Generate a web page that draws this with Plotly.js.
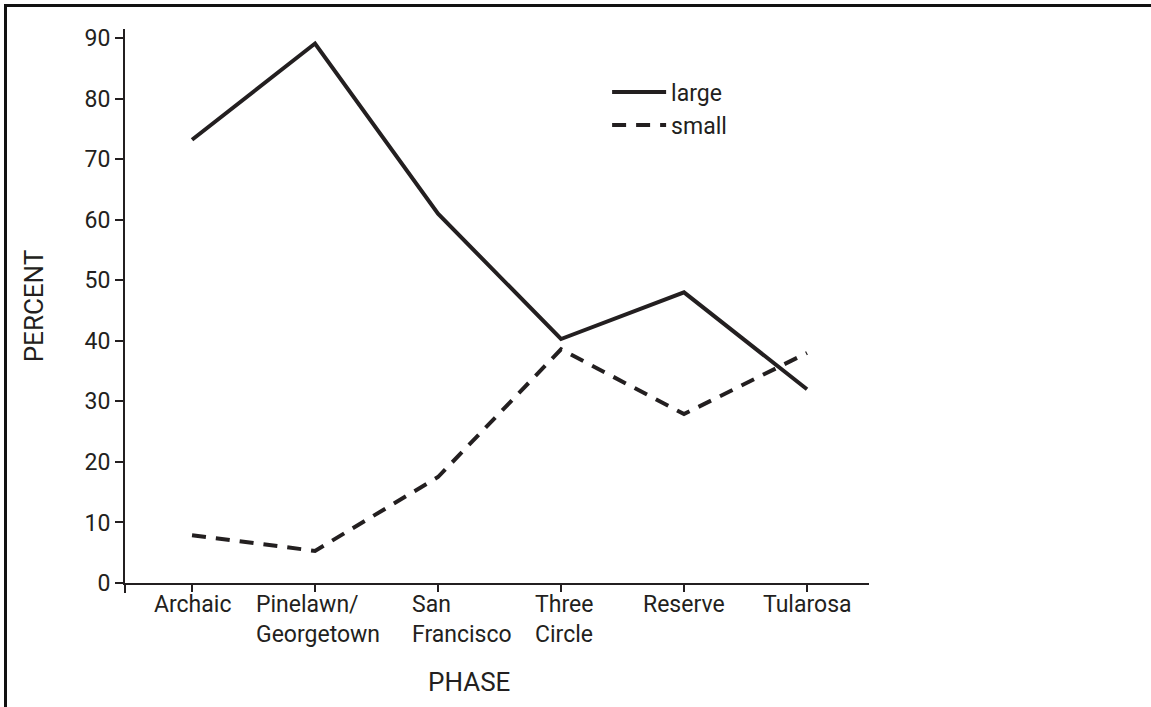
<!DOCTYPE html>
<html>
<head>
<meta charset="utf-8">
<script src="https://cdn.plot.ly/plotly-3.0.1.min.js"></script>
<style>
  html, body { margin: 0; padding: 0; background: #fff; overflow: hidden; }
  #chart { width: 1151px; height: 707px; }
  #frame { position: absolute; left: 4px; top: 4px; width: 1300px; height: 900px;
           border-top: 3px solid #111; border-left: 3px solid #111; pointer-events: none; }
</style>
</head>
<body>
<div id="chart"></div>
<div id="frame"></div>
<script>
const phases = ["Archaic", "Pinelawn/Georgetown", "San Francisco", "Three Circle", "Reserve", "Tularosa"];
const phaseLabels = ["Archaic", "Pinelawn/<br>Georgetown", "San<br>Francisco", "Three<br>Circle", "Reserve", "Tularosa"];
const largeValues = [73.2, 89.1, 61.0, 40.3, 48.0, 32.0];
const smallValues = [7.9, 5.3, 17.5, 38.6, 27.9, 38.0];
const yTicks = [0, 10, 20, 30, 40, 50, 60, 70, 80, 90];

const FONT = "Roboto, 'Open Sans', sans-serif";
const INK = "#231f20";

const traces = [
  { x: phases, y: largeValues, type: "scatter", mode: "lines", name: "large",
    line: { color: INK, width: 4 } },
  { x: phases, y: smallValues, type: "scatter", mode: "lines", name: "small",
    line: { color: INK, width: 4, dash: "14px,10px" } }
];

const annotations = phases.map((p, i) => ({
  x: p, xref: "x", y: -0.01, yref: "paper", yanchor: "top", xanchor: "center",
  xshift: p === "San Francisco" ? 24 : (phaseLabels[i].indexOf("<br>") >= 0 ? 3 : 0),
  text: phaseLabels[i], showarrow: false, align: "left",
  font: { family: FONT, size: 23, color: INK }
}));
annotations.push({
  x: 0.462, xref: "paper", y: -0.178, yref: "paper", yanchor: "middle", xanchor: "center",
  text: "PHASE", showarrow: false, font: { family: FONT, size: 26, color: INK }
});

const layout = {
  width: 1151, height: 707,
  margin: { l: 125, r: 282, t: 29, b: 124 },
  paper_bgcolor: "#fff", plot_bgcolor: "#fff",
  font: { family: FONT, size: 23, color: INK },
  showlegend: true,
  legend: { x: 0.648, y: 0.925, xanchor: "left", yanchor: "top", itemwidth: 54,
            font: { family: FONT, size: 23, color: INK }, bgcolor: "rgba(0,0,0,0)",
            tracegroupgap: 0 },
  xaxis: { type: "category", range: [-0.545, 5.504], showgrid: false, zeroline: false,
           showline: true, linecolor: INK, linewidth: 2, ticks: "outside", ticklen: 7,
           tickwidth: 2, tickcolor: INK, showticklabels: false },
  yaxis: { range: [0, 91.5], tickvals: yTicks, ticktext: yTicks.map(String),
           showgrid: false, zeroline: false, showline: true, linecolor: INK, linewidth: 2,
           ticks: "outside", ticklen: 8, tickwidth: 2, tickcolor: INK,
           tickfont: { family: FONT, size: 23, color: INK },
           title: { text: "PERCENT", standoff: 33, font: { family: FONT, size: 26, color: INK } } },
  shapes: [
    { type: "line", xref: "paper", yref: "paper", x0: 0, x1: 0, y0: 0, y1: -0.018,
      line: { color: INK, width: 2 } }
  ],
  annotations: annotations
};

Plotly.newPlot("chart", traces, layout, { displayModeBar: false, staticPlot: true });
</script>
</body>
</html>
